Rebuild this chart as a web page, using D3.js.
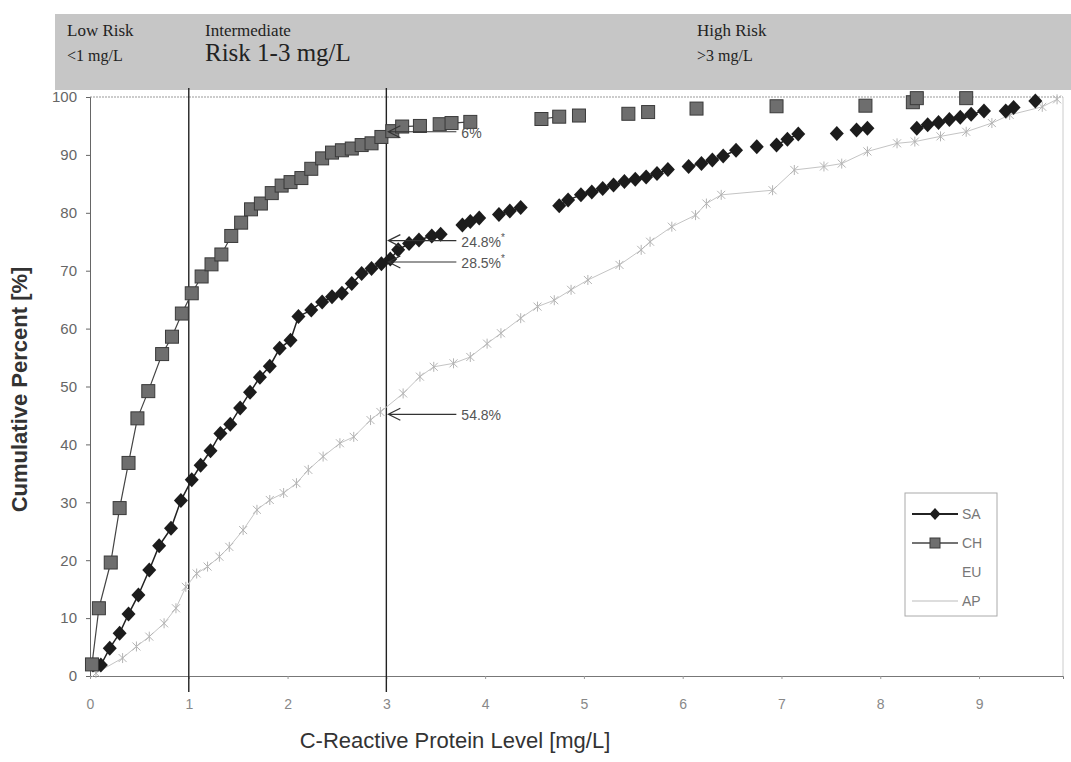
<!DOCTYPE html>
<html>
<head>
<meta charset="utf-8">
<script src="https://cdn.jsdelivr.net/npm/d3@7"></script>
<style>
  body { margin: 0; background: #fff; }
  svg { display: block; }
</style>
</head>
<body>
<svg id="chart"></svg>
<script>
// CRP cumulative distribution by region
const saX = [0.03, 0.11, 0.20, 0.30, 0.39, 0.49, 0.60, 0.70, 0.82, 0.92, 1.03, 1.12, 1.22, 1.32, 1.42, 1.52, 1.62, 1.72, 1.82, 1.92, 2.03, 2.11, 2.24, 2.35, 2.45, 2.55, 2.65, 2.75, 2.85, 2.95, 3.04, 3.12, 3.23, 3.33, 3.46, 3.55, 3.77, 3.85, 3.94, 4.14, 4.25, 4.36, 4.75, 4.84, 4.97, 5.08, 5.19, 5.30, 5.41, 5.52, 5.63, 5.74, 5.85, 6.06, 6.19, 6.30, 6.41, 6.54, 6.75, 6.95, 7.06, 7.17, 7.56, 7.76, 7.87, 8.37, 8.48, 8.59, 8.70, 8.81, 8.92, 9.05, 9.27, 9.35, 9.57];
const saY = [1.9, 1.9, 4.8, 7.4, 10.7, 14.0, 18.3, 22.5, 25.5, 30.3, 33.9, 36.4, 38.9, 41.9, 43.5, 46.3, 49.0, 51.6, 53.5, 56.6, 58.0, 62.1, 63.2, 64.6, 65.5, 66.1, 67.8, 69.5, 70.4, 71.2, 72.0, 73.6, 74.7, 75.3, 76.0, 76.3, 77.9, 78.5, 79.1, 79.7, 80.3, 80.9, 81.2, 82.2, 83.1, 83.6, 84.2, 84.8, 85.4, 85.8, 86.2, 86.8, 87.5, 88.0, 88.5, 89.1, 89.8, 90.8, 91.4, 91.7, 92.7, 93.6, 93.7, 94.3, 94.6, 94.6, 95.2, 95.6, 96.1, 96.5, 97.0, 97.6, 97.6, 98.2, 99.3];

const chX = [0.02, 0.09, 0.21, 0.30, 0.39, 0.48, 0.59, 0.73, 0.83, 0.93, 1.03, 1.13, 1.23, 1.33, 1.43, 1.53, 1.63, 1.73, 1.84, 1.94, 2.03, 2.14, 2.24, 2.35, 2.45, 2.55, 2.65, 2.75, 2.85, 2.95, 3.06, 3.16, 3.34, 3.54, 3.66, 3.85, 4.57, 4.75, 4.95, 5.45, 5.65, 6.14, 6.95, 7.85, 8.33, 8.37, 8.87];
const chY = [2.0, 11.7, 19.6, 29.0, 36.8, 44.5, 49.2, 55.6, 58.6, 62.6, 66.1, 69.0, 71.1, 72.8, 76.0, 78.3, 80.6, 81.6, 83.4, 84.7, 85.3, 86.0, 87.6, 89.4, 90.4, 90.8, 91.1, 91.7, 92.0, 93.1, 94.1, 94.9, 95.0, 95.3, 95.5, 95.7, 96.2, 96.6, 96.8, 97.1, 97.4, 98.0, 98.4, 98.5, 99.1, 99.8, 99.8];

const apX = [0.06, 0.33, 0.47, 0.60, 0.75, 0.87, 0.97, 1.08, 1.19, 1.31, 1.41, 1.55, 1.69, 1.82, 1.96, 2.09, 2.21, 2.36, 2.53, 2.67, 2.84, 2.94, 3.17, 3.34, 3.48, 3.68, 3.85, 4.02, 4.16, 4.36, 4.53, 4.70, 4.87, 5.04, 5.36, 5.58, 5.67, 5.89, 6.13, 6.24, 6.39, 6.91, 7.13, 7.43, 7.61, 7.87, 8.17, 8.35, 8.61, 8.87, 9.13, 9.31, 9.64, 9.79];
const apY = [0.5, 3.1, 5.1, 6.8, 9.1, 11.7, 15.4, 17.7, 18.9, 20.6, 22.3, 25.2, 28.7, 30.4, 31.6, 33.3, 35.6, 37.9, 40.2, 41.3, 44.2, 45.6, 48.8, 51.7, 53.4, 54.0, 55.1, 57.4, 59.2, 61.8, 63.8, 64.9, 66.7, 68.4, 71.0, 73.6, 75.0, 77.6, 79.6, 81.6, 83.1, 83.9, 87.4, 88.0, 88.5, 90.6, 92.0, 92.3, 93.2, 94.0, 95.5, 96.9, 98.3, 99.6];

const xTicks = [0, 1, 2, 3, 4, 5, 6, 7, 8, 9];
const yTicks = [0, 10, 20, 30, 40, 50, 60, 70, 80, 90, 100];
const riskCuts = [1, 3];
const riskLabels = [
  { x: 67, lines: ['Low Risk', '<1 mg/L'], sizes: [17, 16] },
  { x: 205, lines: ['Intermediate', 'Risk 1-3 mg/L'], sizes: [17, 25] },
  { x: 697, lines: ['High Risk', '>3 mg/L'], sizes: [17, 16] }
];
const annotLabels = ['6%', '24.8%', '28.5%', '54.8%'];
const annotValues = [94.0, 75.2, 71.5, 45.2];
const annotStars = [false, true, true, false];
const legendNames = ['SA', 'CH', 'EU', 'AP'];

function drawChart(width, height) {
  let svg = d3
    .select('#chart')
    .attr('width', width)
    .attr('height', height);

  let x = d3.scaleLinear().domain([0, 9.85]).range([90, 1063]),
    y = d3.scaleLinear().domain([0, 100]).range([676, 97]);

  // header band
  svg
    .append('rect')
    .attr('x', 55)
    .attr('y', 14)
    .attr('width', width - 55)
    .attr('height', 76)
    .attr('fill', '#c6c6c6');

  riskLabels.forEach(r => {
    r.lines.forEach((t, i) => {
      svg
        .append('text')
        .attr('x', r.x)
        .attr('y', i === 0 ? 36 : 61)
        .attr('font-family', 'Liberation Serif, serif')
        .attr('font-size', r.sizes[i])
        .attr('fill', '#222')
        .text(t);
    });
  });

  // frame
  svg
    .append('line')
    .attr('x1', x(0)).attr('x2', x(9.85))
    .attr('y1', y(100)).attr('y2', y(100))
    .attr('stroke', '#999')
    .attr('stroke-dasharray', '2,1');
  svg
    .append('line')
    .attr('x1', x(9.85)).attr('x2', x(9.85))
    .attr('y1', y(100)).attr('y2', y(0))
    .attr('stroke', '#ccc');

  let yAxis = svg
    .append('g')
    .attr('transform', 'translate(' + x(0) + ',0)')
    .call(d3.axisLeft(y).tickValues(yTicks).tickSize(4).tickPadding(9));
  yAxis.select('.domain').attr('stroke', '#666');
  yAxis.selectAll('.tick line').attr('stroke', '#666');
  yAxis
    .selectAll('.tick text')
    .attr('font-family', 'Liberation Sans, Arial, sans-serif')
    .attr('font-size', 15)
    .attr('fill', '#666');

  let xAxis = svg
    .append('g')
    .attr('transform', 'translate(0,' + y(0) + ')')
    .call(d3.axisBottom(x).tickValues(xTicks).tickSize(3).tickPadding(20));
  xAxis.select('.domain').attr('stroke', '#777');
  xAxis.selectAll('.tick line').attr('stroke', '#999');
  xAxis
    .selectAll('.tick text')
    .attr('font-family', 'Liberation Sans, Arial, sans-serif')
    .attr('font-size', 14)
    .attr('fill', '#888');

  // risk cut lines
  svg
    .selectAll('.cut')
    .data(riskCuts)
    .enter()
    .append('line')
    .classed('cut', true)
    .attr('x1', d => x(d)).attr('x2', d => x(d))
    .attr('y1', 88).attr('y2', y(0) + 16)
    .attr('stroke', '#222')
    .attr('stroke-width', 1.4);

  // series
  let toPts = (xs, ys) => xs.map((v, i) => [v, ys[i]]);
  let runs = (pts, gap) => {
    let out = [[pts[0]]];
    for (let i = 1; i < pts.length; i++) {
      if (pts[i][0] - pts[i - 1][0] > gap) out.push([]);
      out[out.length - 1].push(pts[i]);
    }
    return out.filter(r => r.length > 1);
  };
  let line = d3.line().x(d => x(d[0])).y(d => y(d[1]));

  let ap = toPts(apX, apY),
    sa = toPts(saX, saY),
    ch = toPts(chX, chY);

  svg
    .append('path')
    .attr('d', line(ap))
    .attr('fill', 'none')
    .attr('stroke', '#c4c4c4')
    .attr('stroke-width', 1);
  svg
    .append('g')
    .selectAll('path')
    .data(ap)
    .enter()
    .append('path')
    .attr('transform', d => 'translate(' + x(d[0]) + ',' + y(d[1]) + ')')
    .attr('d', 'M-4,-4L4,4M-4,4L4,-4M0,-5L0,5')
    .attr('stroke', '#b4b4b4')
    .attr('stroke-width', 1);

  svg
    .selectAll('.saLine')
    .data(runs(sa, 0.16))
    .enter()
    .append('path')
    .classed('saLine', true)
    .attr('d', line)
    .attr('fill', 'none')
    .attr('stroke', '#222')
    .attr('stroke-width', 1.5);
  svg
    .append('g')
    .selectAll('path')
    .data(sa)
    .enter()
    .append('path')
    .attr('transform', d => 'translate(' + x(d[0]) + ',' + y(d[1]) + ')')
    .attr('d', 'M0,-7.5L7,0L0,7.5L-7,0Z')
    .attr('fill', '#1c1c1c');

  svg
    .selectAll('.chLine')
    .data(runs(ch, 0.2))
    .enter()
    .append('path')
    .classed('chLine', true)
    .attr('d', line)
    .attr('fill', 'none')
    .attr('stroke', '#444')
    .attr('stroke-width', 1.2);
  svg
    .append('g')
    .selectAll('rect')
    .data(ch)
    .enter()
    .append('rect')
    .attr('x', d => x(d[0]) - 6.5)
    .attr('y', d => y(d[1]) - 6.5)
    .attr('width', 13)
    .attr('height', 13)
    .attr('fill', '#6e6e6e')
    .attr('stroke', '#3a3a3a')
    .attr('stroke-width', 1);

  // annotations at 3 mg/L
  annotLabels.forEach((t, i) => {
    let yy = y(annotValues[i]),
      x0 = x(3) + 2;
    svg
      .append('path')
      .attr('d', 'M' + x0 + ',' + yy + 'H' + (x0 + 68) +
        'M' + (x0 + 12) + ',' + (yy - 6) + 'L' + x0 + ',' + yy + 'L' + (x0 + 12) + ',' + (yy + 6))
      .attr('fill', 'none')
      .attr('stroke', '#333')
      .attr('stroke-width', 1.2);
    let txt = svg
      .append('text')
      .attr('x', x0 + 73)
      .attr('y', yy + 6)
      .attr('font-family', 'Liberation Sans, Arial, sans-serif')
      .attr('font-size', 14)
      .attr('fill', '#555')
      .text(t);
    if (annotStars[i])
      txt
        .append('tspan')
        .attr('dy', -6)
        .attr('font-size', 10)
        .text('*');
  });

  // legend
  let lg = svg.append('g').attr('transform', 'translate(905,493)');
  lg.append('rect')
    .attr('width', 92)
    .attr('height', 123)
    .attr('fill', '#fff')
    .attr('stroke', '#aaa');
  legendNames.forEach((n, i) => {
    let ly = 21 + i * 29;
    if (n === 'SA') {
      lg.append('line').attr('x1', 7).attr('x2', 53).attr('y1', ly).attr('y2', ly)
        .attr('stroke', '#222').attr('stroke-width', 2);
      lg.append('path').attr('d', 'M30,' + (ly - 6) + 'l5.5,6l-5.5,6l-5.5,-6Z').attr('fill', '#1c1c1c');
    } else if (n === 'CH') {
      lg.append('line').attr('x1', 7).attr('x2', 53).attr('y1', ly).attr('y2', ly)
        .attr('stroke', '#444').attr('stroke-width', 1.5);
      lg.append('rect').attr('x', 25).attr('y', ly - 5).attr('width', 10).attr('height', 10)
        .attr('fill', '#6e6e6e').attr('stroke', '#3a3a3a');
    } else if (n === 'AP') {
      lg.append('line').attr('x1', 7).attr('x2', 53).attr('y1', ly).attr('y2', ly)
        .attr('stroke', '#bbb').attr('stroke-width', 1);
    }
    lg.append('text')
      .attr('x', 57)
      .attr('y', ly + 5)
      .attr('font-family', 'Liberation Sans, Arial, sans-serif')
      .attr('font-size', 14)
      .attr('fill', '#777')
      .text(n);
  });

  // axis titles
  svg
    .append('text')
    .attr('transform', 'translate(27,' + (y(50) + 3) + ') rotate(-90)')
    .attr('text-anchor', 'middle')
    .attr('font-family', 'Liberation Sans, Arial, sans-serif')
    .attr('font-size', 22)
    .attr('font-weight', 'bold')
    .attr('fill', '#333')
    .text('Cumulative Percent [%]');
  svg
    .append('text')
    .attr('x', 455)
    .attr('y', 748)
    .attr('text-anchor', 'middle')
    .attr('font-family', 'Liberation Sans, Arial, sans-serif')
    .attr('font-size', 22)
    .attr('fill', '#333')
    .text('C-Reactive Protein Level [mg/L]');
}

drawChart(1071, 762);
</script>
</body>
</html>
